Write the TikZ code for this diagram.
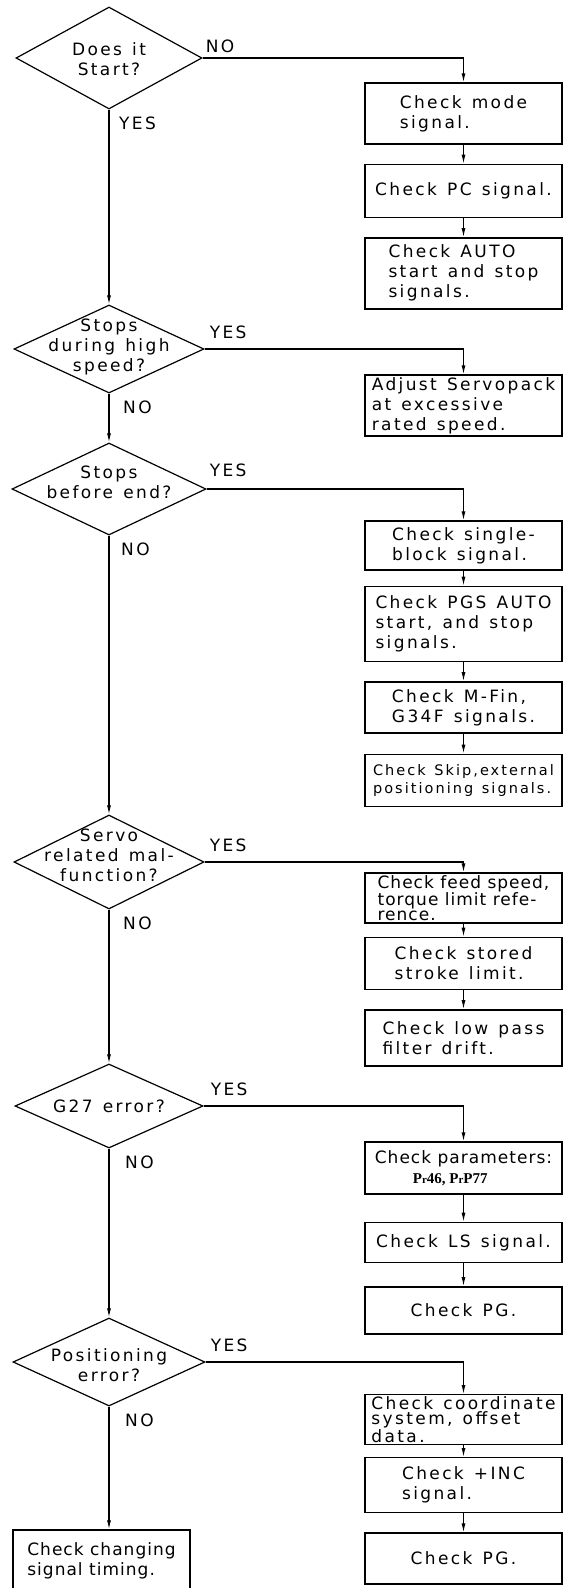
\documentclass[tikz,border=0pt]{standalone}
\usepackage{fontspec}
\setmainfont{DejaVu Sans}[LetterSpace=14,WordSpace=1.3]
\newfontfamily\tightfont{DejaVu Sans}[LetterSpace=6]
\newfontfamily\prfont{Liberation Serif}
\usetikzlibrary{arrows.meta,positioning,shapes.geometric}

\begin{document}
\begin{tikzpicture}[x=1pt,y=-1pt,>=Latex,node distance=19pt]
  \tikzstyle{chk}=[draw,line width=1.4pt,minimum width=197pt,inner sep=2pt,align=left,font=\fontsize{17}{20}\selectfont]
  \tikzstyle{ask}=[draw,diamond,line width=1.2pt,inner sep=0pt]
  \tikzstyle{asktext}=[align=center,inner sep=0pt,font=\fontsize{17}{20}\selectfont]
  \tikzstyle{ans}=[inner sep=0pt,font=\fontsize{17}{20}\selectfont]
  \tikzstyle{flow}=[line width=1.1pt,-{Latex[length=9pt,width=4pt]}]
  \path[use as bounding box,fill=white] (0,0) rectangle (565,1588);

  \node[ask,minimum width=186pt,minimum height=102pt] (start) at (109,58) {};
  \node[asktext] (startq) at (109,59) {Does it\\Start?};
  \node[ask,minimum width=190pt,minimum height=88pt] (high) at (109,349) {};
  \node[asktext] (highq) at (109,347) {Stops\\during high\\speed?};
  \node[ask,minimum width=194pt,minimum height=92pt] (stopend) at (109,489) {};
  \node[asktext] (stopendq) at (109,482) {Stops\\before end?};
  \node[ask,minimum width=190pt,minimum height=94pt] (servo) at (109,862) {};
  \node[asktext] (servoq) at (109,855) {Servo\\related mal-\\function?};
  \node[ask,minimum width=188pt,minimum height=84pt] (gerr) at (109,1106) {};
  \node[asktext] (gerrq) at (109,1106) {G27 error?};
  \node[ask,minimum width=192pt,minimum height=88pt] (poserr) at (109,1362) {};
  \node[asktext] (poserrq) at (109,1365) {Positioning\\error?};
  \node[chk,minimum width=177pt,minimum height=62pt,font=\tightfont\fontsize{17}{20}\selectfont] (timing) at (101.5,1561) {Check changing\\signal timing.};

  \node[ans,anchor=base west,xshift=3pt,yshift=6pt] (startno) at (start.east) {NO};
  \node[ans,anchor=north west,xshift=10pt,yshift=-7pt] (startyes) at (start.south) {YES};
  \node[ans,anchor=base west,xshift=5pt,yshift=11pt] (highyes) at (high.east) {YES};
  \node[ans,anchor=north west,xshift=14pt,yshift=-7pt] (highno) at (high.south) {NO};
  \node[ans,anchor=base west,xshift=3pt,yshift=13pt] (stopendyes) at (stopend.east) {YES};
  \node[ans,anchor=north west,xshift=12pt,yshift=-7pt] (stopendno) at (stopend.south) {NO};
  \node[ans,anchor=base west,xshift=5pt,yshift=11pt] (servoyes) at (servo.east) {YES};
  \node[ans,anchor=north west,xshift=14pt,yshift=-7pt] (servono) at (servo.south) {NO};
  \node[ans,anchor=base west,xshift=7pt,yshift=11pt] (gerryes) at (gerr.east) {YES};
  \node[ans,anchor=north west,xshift=16pt,yshift=-7pt] (gerrno) at (gerr.south) {NO};
  \node[ans,anchor=base west,xshift=5pt,yshift=11pt] (poserryes) at (poserr.east) {YES};
  \node[ans,anchor=north west,xshift=16pt,yshift=-7pt] (poserrno) at (poserr.south) {NO};

  \node[chk,minimum height=61pt] (mode) at (463.5,113.5) {Check mode\\signal.};
  \node[chk,minimum height=53pt,below=of mode] (pcsig) {Check PC signal.};
  \node[chk,minimum height=71pt,below=of pcsig] (autosig) {Check AUTO\\start and stop\\signals.};

  \node[chk,minimum height=61pt] (servopack) at (463.5,405.5) {Adjust Servopack\\at excessive\\rated speed.};

  \node[chk,minimum height=49pt] (single) at (463.5,545.5) {Check single-\\block signal.};
  \node[chk,minimum height=75pt,below=15pt of single] (pgsauto) {Check PGS AUTO\\start, and stop\\signals.};
  \node[chk,minimum height=51pt,below=of pgsauto] (mfin) {Check M-Fin,\\G34F signals.};
  \node[chk,minimum height=52pt,below=20pt of mfin,font=\fontsize{14.5}{18}\selectfont] (skip) {Check Skip,external\\positioning signals.};

  \node[chk,minimum height=50pt,font=\tightfont\fontsize{17}{15}\selectfont] (feed) at (463.5,898) {Check feed speed,\\torque limit refe-\\rence.};
  \node[chk,minimum height=52pt,below=13pt of feed] (stroke) {Check stored\\stroke limit.};
  \node[chk,minimum height=56pt,below=of stroke] (lowpass) {Check low pass\\filter drift.};

  \node[chk,minimum height=52pt,font=\tightfont\fontsize{17}{20}\selectfont] (param) at (463.5,1168) {Check parameters:\\\hspace*{38pt}{\prfont\bfseries\fontsize{15}{20}\selectfont P{\fontsize{11}{11}\selectfont r}46, P{\fontsize{11}{11}\selectfont r}P77}};
  \node[chk,minimum height=40pt,below=27pt of param] (lssig) {Check LS signal.};
  \node[chk,minimum height=47pt,below=23pt of lssig] (pgone) {Check PG.};

  \node[chk,minimum height=49pt,font=\fontsize{17}{15}\selectfont] (coord) at (463.5,1419.5) {Check coordinate\\system, offset\\data.};
  \node[chk,minimum height=55pt,below=12pt of coord] (incsig) {Check +INC\\signal.};
  \node[chk,minimum height=51pt,below=of incsig] (pgtwo) {Check PG.};

  \draw[flow] (start.south) -- (high.north);
  \draw[flow] (high.south) -- (stopend.north);
  \draw[flow] (stopend.south) -- (servo.north);
  \draw[flow] (servo.south) -- (gerr.north);
  \draw[flow] (gerr.south) -- (poserr.north);
  \draw[flow] (poserr.south) -- (poserr.south |- timing.north);

  \draw[flow] (start.east) -| (mode.north);
  \draw[flow] (mode) -- (pcsig);
  \draw[flow] (pcsig) -- (autosig);
  \draw[flow] (high.east) -| (servopack.north);
  \draw[flow] (stopend.east) -| (single.north);
  \draw[flow] (single) -- (pgsauto);
  \draw[flow] (pgsauto) -- (mfin);
  \draw[flow] (mfin) -- (skip);
  \draw[flow] (servo.east) -| (feed.north);
  \draw[flow] (feed) -- (stroke);
  \draw[flow] (stroke) -- (lowpass);
  \draw[flow] (gerr.east) -| (param.north);
  \draw[flow] (param) -- (lssig);
  \draw[flow] (lssig) -- (pgone);
  \draw[flow] (poserr.east) -| (coord.north);
  \draw[flow] (coord) -- (incsig);
  \draw[flow] (incsig) -- (pgtwo);
\end{tikzpicture}
\end{document}
